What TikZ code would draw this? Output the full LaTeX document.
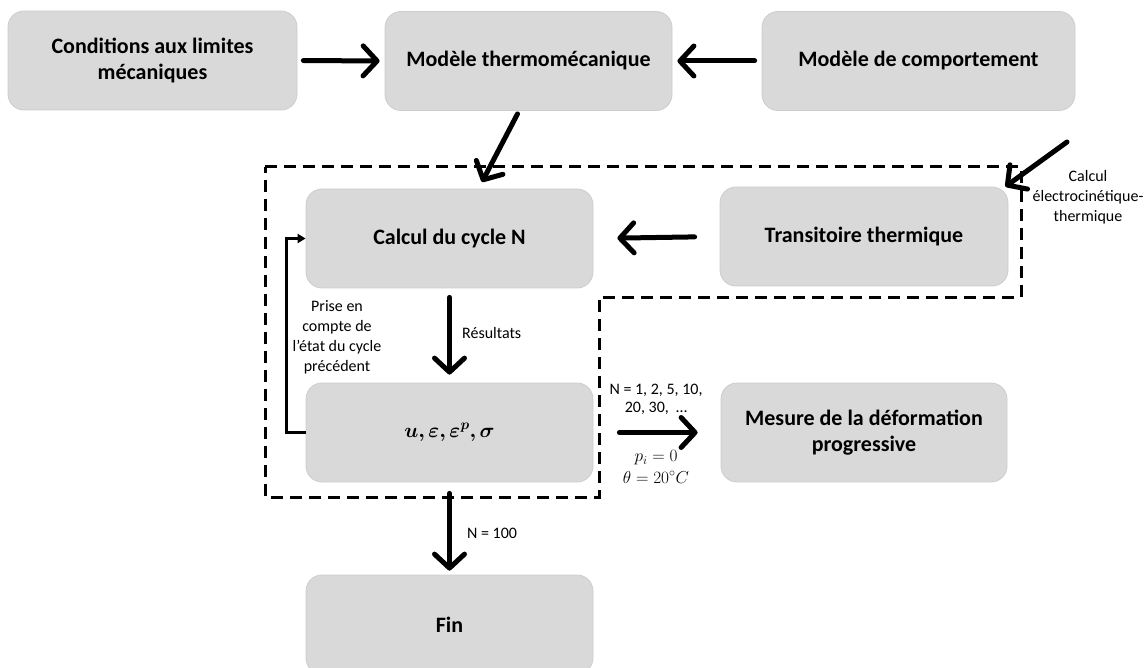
\documentclass[tikz,border=0pt]{standalone}
\usepackage[no-math]{fontspec}
\setmainfont{Carlito}
\usepackage{bm}
\usetikzlibrary{arrows.meta,calc}
\definecolor{boxgray}{HTML}{D9D9D9}
\definecolor{boxedge}{HTML}{CDCDCD}
\begin{document}
\begin{tikzpicture}[x=1pt,y=-1pt,
  box/.style={draw=boxedge, line width=0.8pt, fill=boxgray, rounded corners=16pt,
    minimum width=287pt, minimum height=99pt, inner sep=0pt, align=center,
    font=\fontsize{22}{26}\selectfont\bfseries},
  big/.style={line width=5pt, line cap=round,
    -{Straight Barb[length=14pt,width=30pt,line cap=round,line join=round]}},
  lab/.style={font=\fontsize{16}{20}\selectfont, inner sep=0pt, align=center},
  dashbox/.style={line width=3pt, dash pattern=on 12pt off 7pt},
  fb/.style={line width=2.5pt, -{Triangle[length=8pt,width=9pt]}}]
\clip (0,0) rectangle (1148,668);
\fill[white] (0,0) rectangle (1148,668);

% dashed frame
\draw[dashbox] (265,167) -- (1021,167) -- (1021,297) -- (599,297) -- (599,497) -- (265,497) -- cycle;

% boxes
\node[box, minimum width=289pt] (cond) at (152.5,60.5) {Conditions aux limites\\mécaniques};
\node[box] (thermo) at (528.5,61) {Modèle thermomécanique};
\node[box, minimum width=313pt] (comp) at (918.5,61) {Modèle de comportement};
\node[box] (calc) at (449.5,238.5) {Calcul du cycle N};
\node[box, minimum width=288pt] (trans) at (864,236.5) {Transitoire thermique};
\node[box] (u) at (449.5,432.5) {$\bm{u,\varepsilon,\varepsilon^{p},\sigma}$};
\node[box, minimum width=286pt] (mes) at (864,432.5) {Mesure de la déformation\\progressive};
\node[box] (fin) at (449.5,624.5) {Fin};

% labels
\node[lab] (elab) at (1088,197) {Calcul\\électrocinétique-\\thermique};
\node[lab] (prise) at (337,337) {Prise en\\compte de\\l’état du cycle\\précédent};
\node[lab, anchor=west] (res) at (462,333) {Résultats};
\node[lab, anchor=west] (n100) at (467,533) {N = 100};
\node[lab, font=\fontsize{16}{18}\selectfont] (nlist) at (656,399) {N = 1, 2, 5, 10,\\20, 30,~ …};
\node[lab, font=\fontsize{17}{20}\selectfont] (pval) at (656,458) {$p_i=0$};
\node[lab, font=\fontsize{17}{20}\selectfont] (tval) at (656,477) {$\theta=20^{\circ}C$};

% coordinates
\coordinate (dEnd) at (482,182);
\coordinate (eStart) at (1067,142);

% arrows
\draw[big, shorten <=6pt, shorten >=5pt] (cond.east) -- (thermo.west);
\draw[big, shorten <=7pt, shorten >=5pt] (comp.west) -- (thermo.east);
\draw[big] ($(thermo.south)+(-11,3)$) -- (dEnd);
\draw[big] (eStart) -- ($(trans.north east)+(-3,0)$);
\draw[big, shorten <=25pt, shorten >=24pt] (trans.west) -- (calc.east);
\draw[big, shorten <=9pt, shorten >=8pt] (calc.south) -- (u.north);
\draw[big, shorten <=26pt, shorten >=23pt] (u.east) -- (mes.west);
\draw[big, shorten <=11pt, shorten >=4pt] (u.south) -- (fin.north);
\draw[fb] (u.west) -- ++(-19,0) |- (calc.west);
\end{tikzpicture}
\end{document}
